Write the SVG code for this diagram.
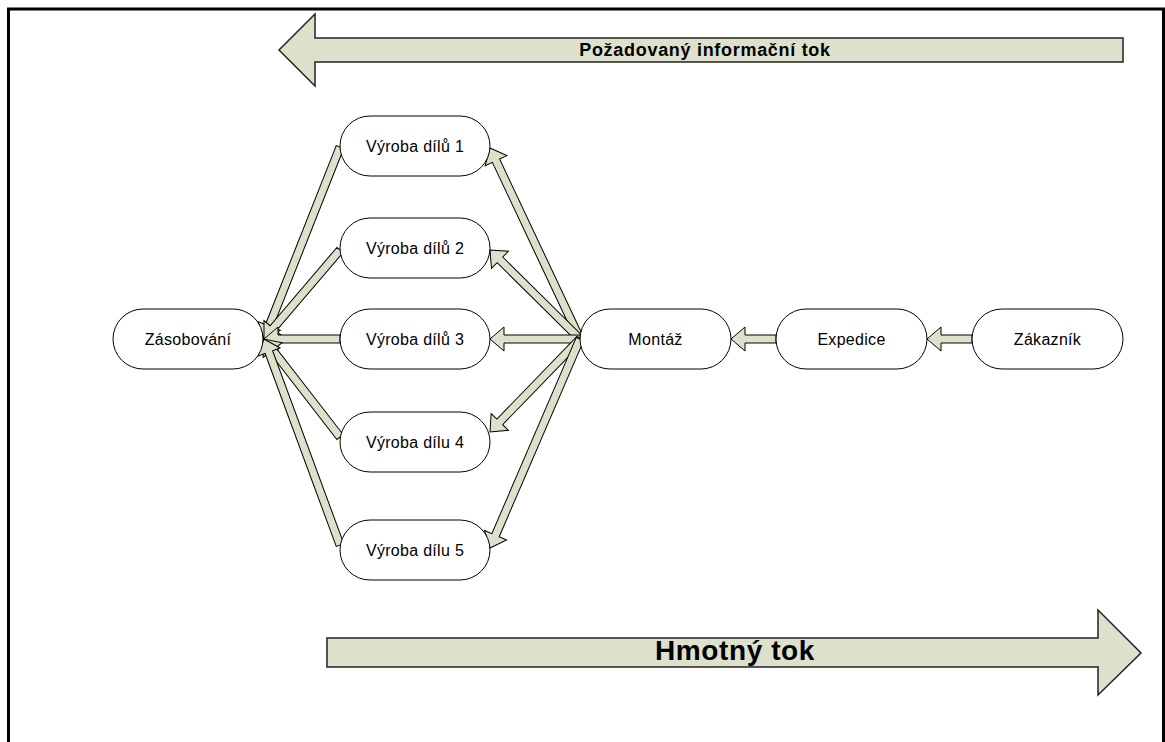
<svg xmlns="http://www.w3.org/2000/svg" width="1165" height="742" viewBox="0 0 1165 742">
<style>
.node rect{fill:#ffffff;stroke:#000000;stroke-width:1}
.node text{font-family:"Liberation Sans",Arial,sans-serif;font-size:16px;letter-spacing:0.3px;fill:#000000;text-anchor:middle}
.arr{fill:#dde0cb;stroke:#000000;stroke-width:1;stroke-linejoin:miter}
.big{fill:#dde0cb;stroke:#222222;stroke-width:1.5}
.title{font-family:"Liberation Sans",Arial,sans-serif;font-weight:bold;fill:#000000;text-anchor:middle}
</style>
<rect x="0" y="0" width="1165" height="742" fill="#ffffff"/>
<rect x="8.5" y="9" width="1155" height="780" fill="none" stroke="#000000" stroke-width="3"/>

<g id="flow-info">
<polygon class="big" points="279,50 315,14 315,38 1123,38 1123,62 315,62 315,86"/>
<text class="title" x="705" y="56" font-size="18" letter-spacing="0.7">Požadovaný informační tok</text>
</g>
<g id="flow-material">
<polygon class="big" points="327,638 1098,638 1098,610 1141,653 1098,695 1098,667 327,667"/>
<text class="title" x="735" y="660" font-size="28" letter-spacing="0.6">Hmotný tok</text>
</g>

<g id="connectors">
<polygon class="arr" transform="translate(580,339) rotate(-115.23)" points="0,-4 197.1,-4 197.1,-12 211.1,0 197.1,12 197.1,4 0,4"/>
<polygon class="arr" transform="translate(580,339) rotate(-135.32)" points="0,-4 112.6,-4 112.6,-12 126.6,0 112.6,12 112.6,4 0,4"/>
<polygon class="arr" transform="translate(580,339) rotate(180)" points="0,-4 76,-4 76,-12 90,0 76,12 76,4 0,4"/>
<polygon class="arr" transform="translate(580,339) rotate(134.06)" points="0,-4 115.4,-4 115.4,-12 129.4,0 115.4,12 115.4,4 0,4"/>
<polygon class="arr" transform="translate(580,339) rotate(113.30)" points="0,-4 213.6,-4 213.6,-12 227.6,0 213.6,12 213.6,4 0,4"/>

<polygon class="arr" transform="translate(340,147) rotate(111.59)" points="0,-4 192.5,-4 192.5,-12 206.5,0 192.5,12 192.5,4 0,4"/>
<polygon class="arr" transform="translate(340,250) rotate(130.50)" points="0,-4 103,-4 103,-12 117,0 103,12 103,4 0,4"/>
<polygon class="arr" transform="translate(340,339) rotate(180)" points="0,-4 62,-4 62,-12 76,0 62,12 62,4 0,4"/>
<polygon class="arr" transform="translate(340,437) rotate(-127.79)" points="0,-4 110,-4 110,-12 124,0 110,12 110,4 0,4"/>
<polygon class="arr" transform="translate(340,545) rotate(-110.25)" points="0,-4 205.6,-4 205.6,-12 219.6,0 205.6,12 205.6,4 0,4"/>

<polygon class="arr" transform="translate(972,339) rotate(180)" points="0,-4 31,-4 31,-12 45,0 31,12 31,4 0,4"/>
<polygon class="arr" transform="translate(776,339) rotate(180)" points="0,-4 31,-4 31,-12 45,0 31,12 31,4 0,4"/>
</g>

<g id="zasobovani" class="node"><rect x="113" y="309" width="150" height="60" rx="30" ry="30"/><text x="188" y="344.7">Zásobování</text></g>
<g id="vyroba1" class="node"><rect x="340" y="116" width="150" height="60" rx="30" ry="30"/><text x="415" y="151.7">Výroba dílů 1</text></g>
<g id="vyroba2" class="node"><rect x="340" y="218" width="150" height="60" rx="30" ry="30"/><text x="415" y="253.7">Výroba dílů 2</text></g>
<g id="vyroba3" class="node"><rect x="340" y="309" width="150" height="60" rx="30" ry="30"/><text x="415" y="344.7">Výroba dílů 3</text></g>
<g id="vyroba4" class="node"><rect x="340" y="412" width="150" height="60" rx="30" ry="30"/><text x="415" y="447.7">Výroba dílu 4</text></g>
<g id="vyroba5" class="node"><rect x="340" y="520" width="150" height="60" rx="30" ry="30"/><text x="415" y="555.7">Výroba dílu 5</text></g>
<g id="montaz" class="node"><rect x="580" y="309" width="151" height="60" rx="30" ry="30"/><text x="655.5" y="344.7">Montáž</text></g>
<g id="expedice" class="node"><rect x="776" y="309" width="151" height="60" rx="30" ry="30"/><text x="851.5" y="344.7">Expedice</text></g>
<g id="zakaznik" class="node"><rect x="972" y="309" width="151" height="60" rx="30" ry="30"/><text x="1047.5" y="344.7">Zákazník</text></g>
</svg>
